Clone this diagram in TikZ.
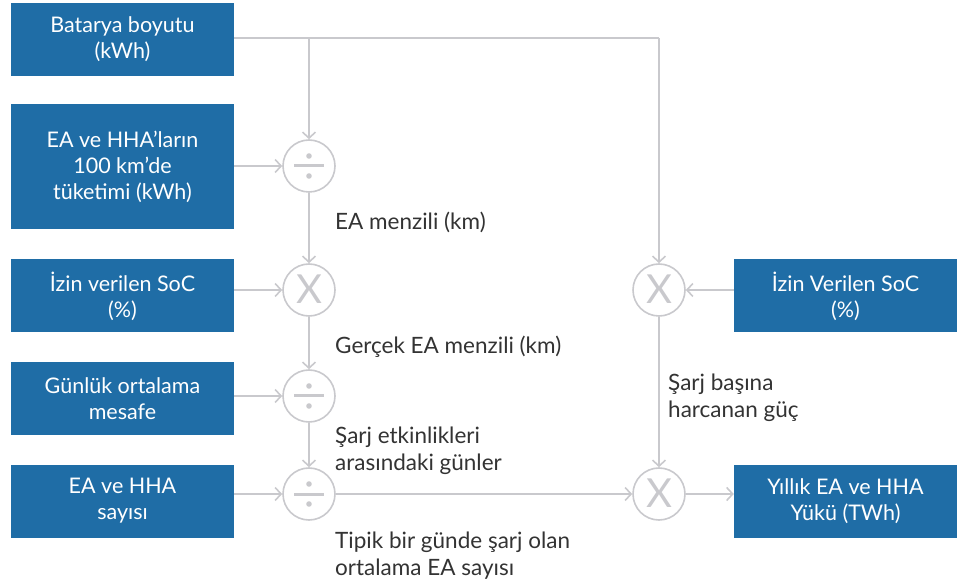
\documentclass[tikz,border=0pt]{standalone}
\usepackage{fontspec}
\setmainfont{Lato}
\usetikzlibrary{arrows.meta}
\definecolor{boxblue}{HTML}{1F6DA6}
\definecolor{linegray}{HTML}{C9C9CD}
\definecolor{txtgray}{HTML}{333333}
\begin{document}
\begin{tikzpicture}[x=1pt,y=-1pt,
  box/.style={fill=boxblue,text=white,align=center,inner sep=0pt,
    minimum width=223pt,minimum height=73pt,
    font=\fontsize{21.5}{26}\selectfont},
  op/.style={circle,draw=linegray,line width=1.6pt,minimum size=52pt,inner sep=0pt},
  conn/.style={draw=linegray,line width=2pt,-{Straight Barb[length=6pt,width=13pt,line width=1.6pt]}},
  plain/.style={draw=linegray,line width=2pt},
  lbl/.style={text=txtgray,align=left,anchor=west,inner sep=0pt,
    font=\fontsize{22.5}{27}\selectfont}]
\useasboundingbox (0,0) rectangle (962,585);
% boxes
\node[box] (b1) at (122.5,39.5) {Batarya boyutu\\(kWh)};
\node[box,minimum height=125pt] (b2) at (122.5,166.5) {EA ve HHA’ların\\100 km’de\\tüketimi (kWh)};
\node[box] (b3) at (122.5,296) {İzin verilen SoC\\(\%)};
\node[box] (b4) at (122.5,399) {Günlük ortalama\\mesafe};
\node[box] (b5) at (122.5,501) {EA ve HHA\\sayısı};
\node[box] (r1) at (845.5,296) {İzin Verilen SoC\\(\%)};
\node[box] (r2) at (845.5,501) {Yıllık EA ve HHA\\Yükü (TWh)};
% operators
\node[op] (c1) at (309,166) {};
\node[op] (c2) at (309,290) {};
\node[op] (c3) at (309,396) {};
\node[op] (c4) at (309,494) {};
\node[op] (d1) at (659,290) {};
\node[op] (d2) at (659,494) {};
% symbols
\foreach \c in {c1,c3,c4}{
  \draw[linegray,line width=3pt] ([xshift=-15pt]\c.center) -- ([xshift=15pt]\c.center);
  \fill[linegray] ([yshift=-10pt]\c.center) circle (2.8pt);
  \fill[linegray] ([yshift=10pt]\c.center) circle (2.8pt);
}
\foreach \c in {c2,d1,d2}{
  \node[text=linegray,font=\fontsize{40}{40}\selectfont\fontseries{l}\selectfont,inner sep=0pt] at ([yshift=1pt]\c.center) {X};
}
% connectors
\coordinate (t1) at (309,38);
\coordinate (t2) at (659,38);
\draw[plain] (b1.east |- t1) -- (t2);
\draw[conn] (t1) -- (c1.north);
\draw[conn] (t2) -- (d1.north);
\draw[conn] (b2.east |- c1) -- (c1.west);
\draw[conn] (c1.south) -- (c2.north);
\draw[conn] (b3.east |- c2) -- (c2.west);
\draw[conn] (c2.south) -- (c3.north);
\draw[conn] (b4.east |- c3) -- (c3.west);
\draw[conn] (c3.south) -- (c4.north);
\draw[conn] (b5.east |- c4) -- (c4.west);
\draw[conn] (c4.east) -- (d2.west);
\draw[conn] (d1.south) -- (d2.north);
\draw[conn] (r1.west |- d1) -- (d1.east);
\draw[conn] (d2.east) -- (r2.west |- d2);
% labels
\node[lbl] (l1) at (335,222) {EA menzili (km)};
\node[lbl] (l2) at (335,347) {Gerçek EA menzili (km)};
\node[lbl] (l3) at (335,451) {Şarj etkinlikleri\\arasındaki günler};
\node[lbl] (l4) at (335,556) {Tipik bir günde şarj olan\\ortalama EA sayısı};
\node[lbl] (l5) at (668,398) {Şarj başına\\harcanan güç};
\end{tikzpicture}
\end{document}
